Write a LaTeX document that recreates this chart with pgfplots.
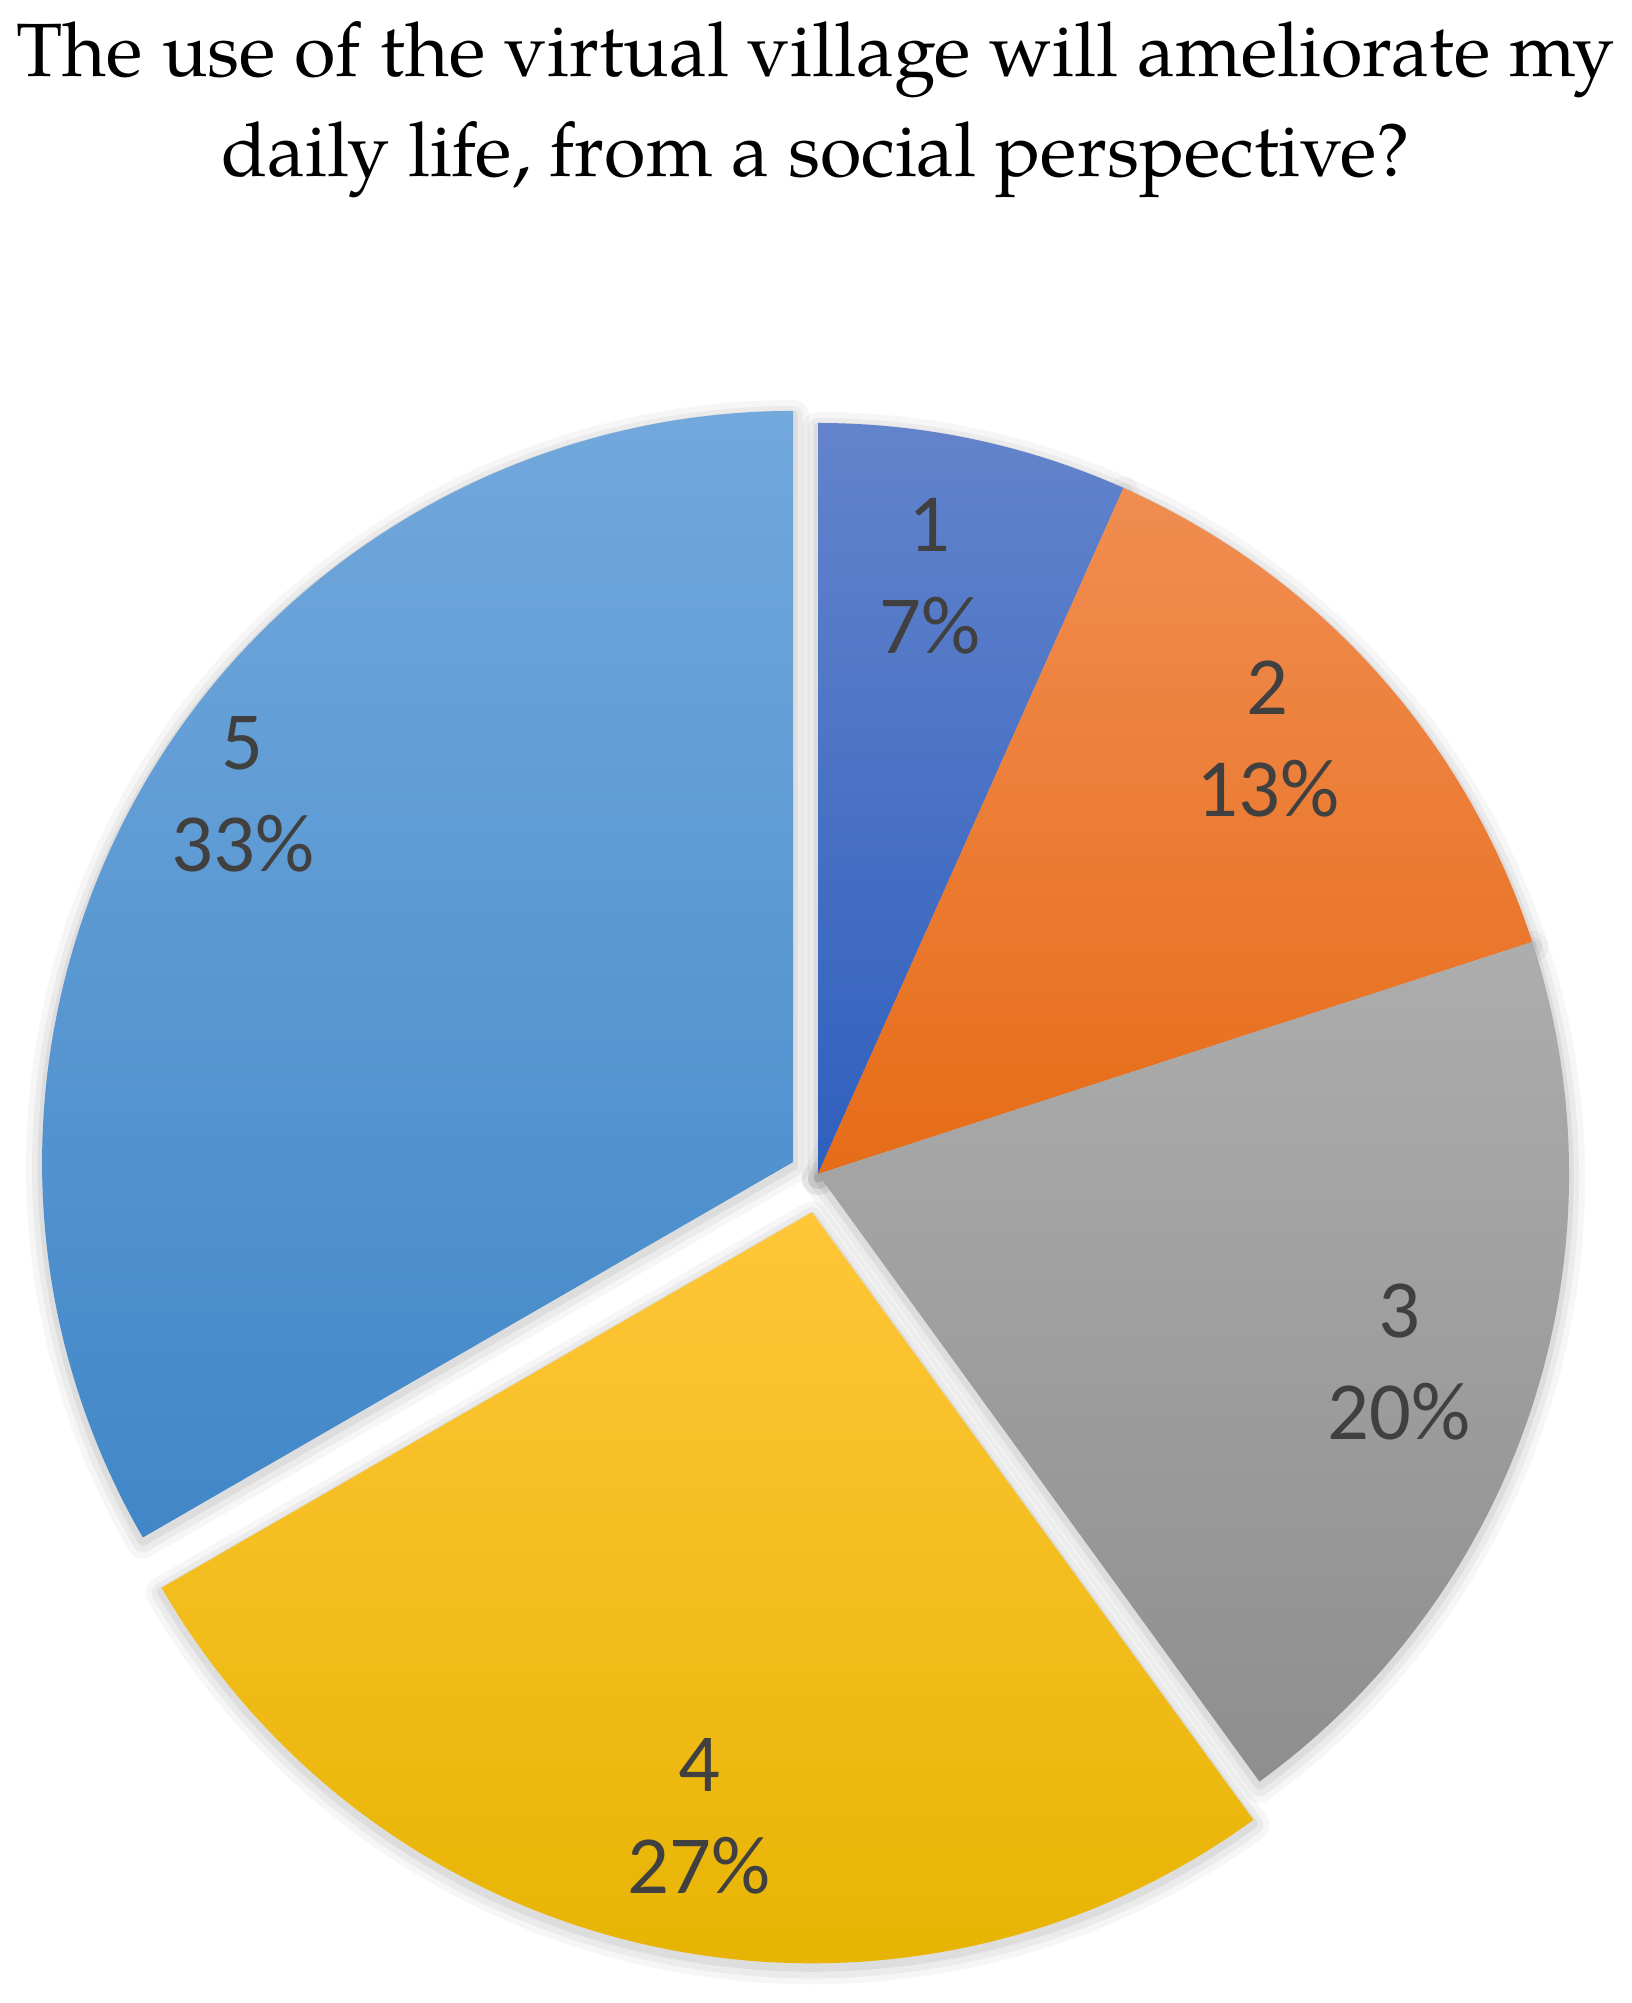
\documentclass[border=0pt]{standalone}
\usepackage{pgfplots}
\usepackage{pgfplotstable}
\pgfplotsset{compat=1.18}
\usepackage{fontspec}
\setmainfont{TeX Gyre Pagella}
\newfontfamily\lblfont{Carlito}

\definecolor{top0}{HTML}{6384CC}\definecolor{bot0}{HTML}{2F5FBD}
\definecolor{top1}{HTML}{F18D52}\definecolor{bot1}{HTML}{E66C17}
\definecolor{top2}{HTML}{ADADAD}\definecolor{bot2}{HTML}{8E8E8E}
\definecolor{top3}{HTML}{FFC638}\definecolor{bot3}{HTML}{E6B300}
\definecolor{top4}{HTML}{72A8DC}\definecolor{bot4}{HTML}{4187C8}
\definecolor{lblcol}{HTML}{404040}

% category, count, label position, explosion offset (axis units, radius = 1)
\pgfplotstableread{
n count lx ly dx dy
1 1 0.149 0.796 0 0
2 2 0.599 0.579 0 0
3 3 0.774 -0.250 0 0
4 4 -0.158 -0.855 -0.008 -0.051
5 5 -0.766 0.505 -0.033 0.016
}\piedata

\def\R{7.51cm}
\tikzset{
  lbl/.style={font=\lblfont\fontsize{23.5}{29}\selectfont, text=lblcol, align=center, inner sep=0pt},
  sh1/.style={draw=black, opacity=0.035, line width=0.32cm, line join=round, yshift=-0.05cm},
  sh2/.style={draw=black, opacity=0.045, line width=0.20cm, line join=round, yshift=-0.05cm},
  sh3/.style={draw=black, opacity=0.06, line width=0.09cm, line join=round, yshift=-0.04cm},
}

\begin{document}
\begin{tikzpicture}
\pgfmathsetmacro\total{0}
\pgfplotsforeachungrouped \i in {0,...,4}{%
  \pgfplotstablegetelem{\i}{count}\of\piedata
  \pgfmathsetmacro\total{\total+\pgfplotsretval}}
\pgfmathsetmacro\acc{90}
\pgfplotsforeachungrouped \i in {0,...,4}{%
  \pgfplotstablegetelem{\i}{count}\of\piedata \let\cnt\pgfplotsretval
  \pgfplotstablegetelem{\i}{n}\of\piedata \expandafter\xdef\csname nm\i\endcsname{\pgfplotsretval}%
  \pgfplotstablegetelem{\i}{dx}\of\piedata \let\ddx\pgfplotsretval
  \pgfplotstablegetelem{\i}{dy}\of\piedata \let\ddy\pgfplotsretval
  \pgfplotstablegetelem{\i}{lx}\of\piedata \expandafter\xdef\csname lx\i\endcsname{\pgfplotsretval}%
  \pgfplotstablegetelem{\i}{ly}\of\piedata \expandafter\xdef\csname ly\i\endcsname{\pgfplotsretval}%
  \pgfmathsetmacro\e{\acc-360*\cnt/\total}%
  \pgfmathsetmacro\px{\ddx+cos(\acc)}%
  \pgfmathsetmacro\py{\ddy+sin(\acc)}%
  \pgfmathtruncatemacro\pct{round(100*\cnt/\total)}%
  \expandafter\xdef\csname cx\i\endcsname{\ddx}%
  \expandafter\xdef\csname cy\i\endcsname{\ddy}%
  \expandafter\xdef\csname px\i\endcsname{\px}%
  \expandafter\xdef\csname py\i\endcsname{\py}%
  \expandafter\xdef\csname s\i\endcsname{\acc}%
  \expandafter\xdef\csname e\i\endcsname{\e}%
  \expandafter\xdef\csname pct\i\endcsname{\pct}%
  \let\acc\e
}
\begin{axis}[
  hide axis, x=7.51cm, y=7.51cm,
  xmin=-1.08921, xmax=1.08389, ymin=-1.10386, ymax=1.56325,
  enlargelimits=false, clip=false,
  at={(0,0)}, anchor=south west,
]
% shadows
\pgfplotsinvokeforeach{0,...,4}{%
  \edef\slicepath{(axis cs:\csname cx#1\endcsname,\csname cy#1\endcsname) -- (axis cs:\csname px#1\endcsname,\csname py#1\endcsname) arc[start angle=\csname s#1\endcsname, end angle=\csname e#1\endcsname, radius=\R] -- cycle}%
  \edef\tmp{\noexpand\path[sh1] \slicepath; \noexpand\path[sh2] \slicepath; \noexpand\path[sh3] \slicepath;}\tmp
}
% slices
\pgfplotsinvokeforeach{0,...,4}{%
  \edef\slicepath{(axis cs:\csname cx#1\endcsname,\csname cy#1\endcsname) -- (axis cs:\csname px#1\endcsname,\csname py#1\endcsname) arc[start angle=\csname s#1\endcsname, end angle=\csname e#1\endcsname, radius=\R] -- cycle}%
  \edef\tmp{\noexpand\path[top color=top#1, bottom color=bot#1, draw=none] \slicepath;}\tmp
}
% labels
\pgfplotsinvokeforeach{0,...,4}{%
  \edef\tmp{\noexpand\node[lbl] at (axis cs:\csname lx#1\endcsname,\csname ly#1\endcsname) {\csname nm#1\endcsname\noexpand\\\csname pct#1\endcsname\noexpand\%};}\tmp
}
% title
\node[anchor=base, font=\fontsize{21.5}{26}\selectfont, inner sep=0pt] at (axis cs:-0.003,1.4607) {The use of the virtual village will ameliorate my};
\node[anchor=base, font=\fontsize{21.5}{26}\selectfont, inner sep=0pt] at (axis cs:-0.003,1.3276) {daily life, from a social perspective?};
\end{axis}
\pgfresetboundingbox
\path[use as bounding box] (current axis.south west) rectangle (current axis.north east);
\end{tikzpicture}
\end{document}
